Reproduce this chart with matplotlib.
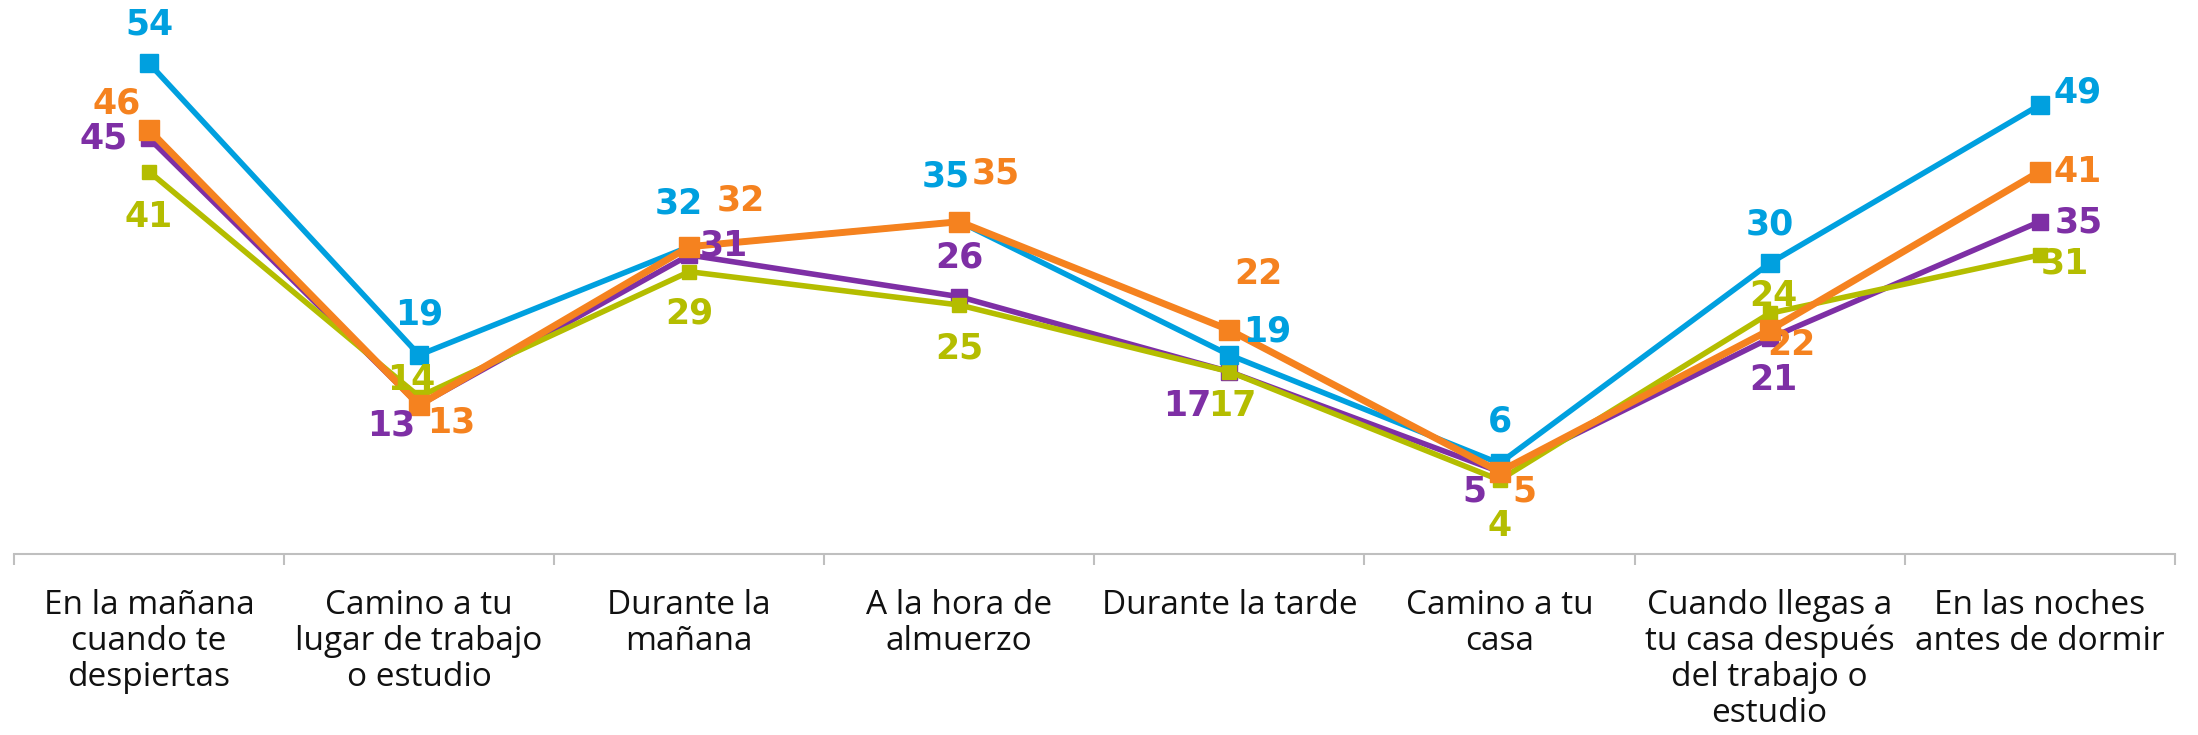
import numpy as np
import matplotlib.pyplot as plt

# Categorías y series
categorias = ["En la mañana\ncuando te\ndespiertas", "Camino a tu\nlugar de trabajo\no estudio",
              "Durante la\nmañana", "A la hora de\nalmuerzo", "Durante la tarde",
              "Camino a tu\ncasa", "Cuando llegas a\ntu casa después\ndel trabajo o\nestudio",
              "En las noches\nantes de dormir"]
azul = [54, 19, 32, 35, 19, 6, 30, 49]
naranja = [46, 13, 32, 35, 22, 5, 22, 41]
morado = [45, 13, 31, 26, 17, 5, 21, 35]
verde = [41, 14, 29, 25, 17, 4, 24, 31]

# desplazamiento de etiquetas (pixeles)
off_azul = [(0, 39), (0, 41), (-10, 43), (-14, 45), (38, 24), (0, 42), (0, 39), (38, 13)]
off_naranja = [(-32, 27), (32, -17), (52, 46), (36, 48), (29, 56), (25, -20), (22, -15), (38, 0)]
off_morado = [(-46, 0), (-28, -20), (35, 10), (0, 39), (-42, -34), (-25, -20), (4, -42), (39, -1)]
off_verde = [(0, -45), (-8, 17), (0, -42), (0, -43), (3, -34), (0, -46), (4, 17), (25, -8)]

series = [
    (morado, "#7E2FA5", 4.0, 11, off_morado),
    (verde, "#B4BD00", 4.0, 10, off_verde),
    (azul, "#00A0DF", 4.0, 13, off_azul),
    (naranja, "#F5821F", 5.0, 14, off_naranja),
]

fig = plt.figure(figsize=(21.98, 7.35), dpi=100)
ax = fig.add_axes([0.0064, 0.246, 0.983, 0.754])
x = np.arange(len(categorias))

for vals, color, lw, ms, offs in series:
    ax.plot(x, vals, color=color, lw=lw, marker="s", markersize=ms, solid_joinstyle="miter")
    for xi, v, (dx, dy) in zip(x, vals, offs):
        ax.annotate(str(v), (xi, v), xytext=(dx, dy), textcoords="offset pixels",
                    ha="center", va="center", color=color, fontsize=25,
                    fontweight="bold", family="DejaVu Sans")

ax.set_xlim(-0.5, 7.5)
ax.set_ylim(-4.9, 61.6)
for s in ["top", "right", "left"]:
    ax.spines[s].set_visible(False)
ax.spines["bottom"].set_color("#BFBFBF")
ax.spines["bottom"].set_linewidth(1.5)
ax.set_yticks([])
ax.set_xticks(x)
ax.set_xticklabels(categorias, fontsize=24, family="Open Sans", color="#111111", linespacing=1.12, va="top")
ax.tick_params(axis="x", which="major", length=0, pad=25)
ax.set_xticks(np.arange(-0.5, 8, 1), minor=True)
ax.tick_params(axis="x", which="minor", length=8, width=1.5, color="#BFBFBF")

fig.savefig("out.png", dpi=100)
